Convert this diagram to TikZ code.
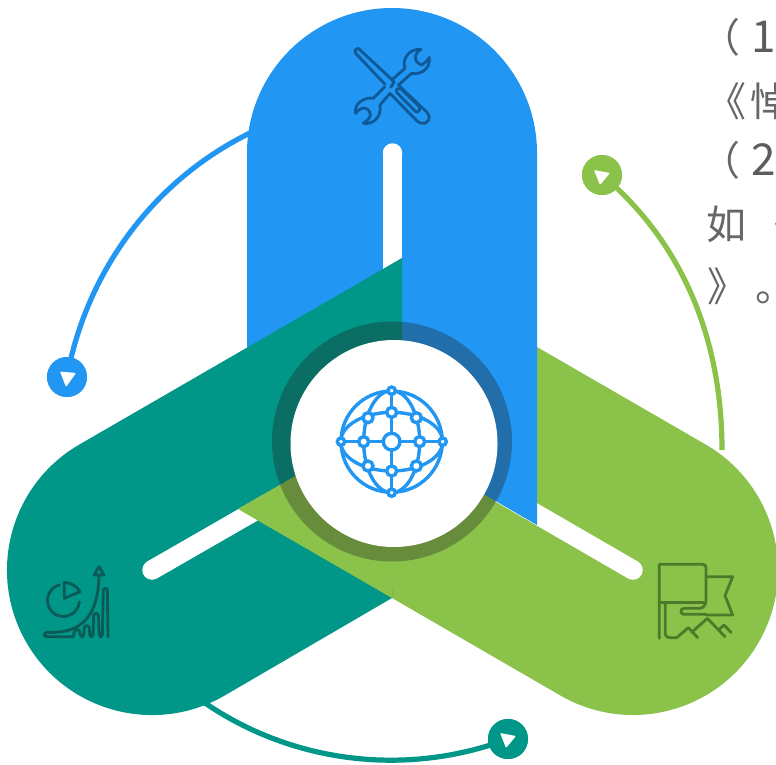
\documentclass[tikz,border=0pt]{standalone}
\usepackage{fontspec}
\newfontfamily\cjk{Noto Sans CJK SC}
\definecolor{cblue}{HTML}{2196F3}
\definecolor{cteal}{HTML}{009688}
\definecolor{cgreen}{HTML}{8BC34A}
\definecolor{icoblue}{HTML}{0F5A96}
\definecolor{icoteal}{HTML}{0B5A55}
\definecolor{icogreen}{HTML}{4C7A2A}
\definecolor{txt}{HTML}{666666}
\definecolor{ringc}{HTML}{222222}
\tikzset{
  slit/.style={white,line width=19.5pt},
  arcline/.style={line width=5.2pt},
  marker/.style={circle,minimum size=40pt,inner sep=0pt},
  ico/.style={line width=2.8pt,line join=round,line cap=round},
  zcoords/.style={x=0.3333pt,y=-0.3333pt},
  ln/.style={anchor=base west,inner sep=0pt,text=txt,font=\cjk\fontsize{40}{40}\selectfont},
  dig/.style={anchor=base west,inner sep=0pt,text=txt!90!black,font=\cjk\fontsize{44}{44}\selectfont},
}
\begin{document}
\begin{tikzpicture}[x=1pt,y=-1pt]
\useasboundingbox (0,0) rectangle (776,764);
\clip (0,0) rectangle (776,764);
\fill[white] (0,0) rectangle (776,764);
% text
\node[ln] (t1) at (700,52) {（};
\node[dig] (d1) at (751,52) {1};
\node[ln] (t2) at (706,116) {《};
\node[ln] (t2b) at (750,116) {悼};
\node[ln] (t3) at (700,175) {（};
\node[dig] (d2) at (751,175) {2};
\node[ln] (t4) at (706,239) {如};
\node[ln] (t4b) at (754,239) {《};
\node[ln] (t5) at (707,301) {》};
\node[ln] (t5b) at (755,301) {。};
% markers and free ends of the arcs
\coordinate (ba) at (250,133);
\coordinate (ga) at (722,450);
\coordinate (ta) at (205,703);
\node[marker,fill=cblue] (mb) at (67,377) {};
\node[marker,fill=cgreen] (mg) at (602,175) {};
\node[marker,fill=cteal] (mt) at (508,739) {};
\draw[arcline,cblue] (ba) .. controls (154,180) and (86.5,271) .. (mb.center);
\draw[arcline,cgreen] (mg.center) .. controls (677.7,238.2) and (722,332) .. (ga);
\draw[arcline,cteal] (ta) .. controls (293.9,763.7) and (407.2,776.7) .. (mt.center);
\node[marker,fill=cblue] at (mb) {};
\node[marker,fill=cgreen] at (mg) {};
\node[marker,fill=cteal] at (mt) {};
\fill[white,rounded corners=1pt] ([shift={(-7,-5.5)}]mb.center) -- ([shift={(9,-4)}]mb.center) -- ([shift={(-1,10)}]mb.center) -- cycle;
\fill[white,rounded corners=1pt] ([shift={(-8,-5)}]mg.center) -- ([shift={(8,-2)}]mg.center) -- ([shift={(-2,10)}]mg.center) -- cycle;
\fill[white,rounded corners=1pt] ([shift={(-8,-6)}]mt.center) -- ([shift={(8,-3)}]mt.center) -- ([shift={(-2,9)}]mt.center) -- cycle;
% green band
\fill[cgreen] (537,347) -- (705.5,444.4) arc[start angle=-60,end angle=120,radius=145] -- (392,598) -- (238,509) -- (392,420) -- cycle;
\draw[slit] (633,570) -- (500,493);
\fill[white] (633,570) circle (9.75);
% blue band
\fill[cblue] (247,347) -- (247,153) arc[start angle=180,end angle=360,radius=145] -- (537,525) -- (392,441) -- cycle;
\draw[slit] (392.5,153) -- (392.5,275);
\fill[white] (392.5,153) circle (9.75);
% teal band
\fill[cteal] (402,258) -- (402,441) -- (392,598) -- (224.5,695.6) arc[start angle=60,end angle=240,radius=145] -- cycle;
\draw[slit] (152,570) -- (272,501);
\fill[white] (152,570) circle (9.75);
% green part that lies over the teal band
\fill[cgreen] (238,509) -- (400,415.5) -- (400,500) -- (392,598) -- cycle;
% hub
\fill[ringc,opacity=.34] (392,441.5) circle (120);
\fill[white] (394,443.5) circle (103.5);
% tools icon
\begin{scope}[shift={(340,30)},zcoords,ico,icoblue]
  \draw (45,60) -- (55,55) -- (155,148);
  \draw (45,60) -- (47,70) -- (135,163);
  \draw (175,165) -- (262,248) .. controls (275,262) and (265,283) .. (245,280) .. controls (238,279) and (232,275) .. (228,270) -- (150,190);
  \draw[rounded corners=3pt] (165,182) -- (178,172) -- (243,235) -- (232,250) -- cycle;
  \draw (155,150) -- (195,115) .. controls (185,90) and (205,55) .. (243,58) .. controls (222,70) and (218,95) .. (245,105) .. controls (255,100) and (262,92) .. (268,82) .. controls (272,115) and (245,135) .. (215,130) -- (175,165);
  \draw (135,170) -- (100,205) .. controls (75,200) and (40,220) .. (47,250) .. controls (55,240) and (65,232) .. (75,235) .. controls (95,240) and (100,262) .. (70,280) .. controls (105,285) and (125,255) .. (120,225) -- (150,190);
  \draw (155,150) -- (163,156) -- (152,172);
\end{scope}
% globe icon
\begin{scope}[shift={(330,380)},zcoords,line width=3.4pt,cblue]
  \draw (185,185) circle[radius=152];
  \draw (185,185) ellipse[x radius=84,y radius=153];
  \draw (185,185) ellipse[x radius=153,y radius=88];
  \draw (185,32) -- (185,338);
  \draw (33,185) -- (338,185);
  \foreach \px/\py/\pr in {185/185/25,185/32/11,185/338/11,33/185/11,338/185/11,185/97/15,185/273/15,101/185/15,269/185/15,114/113/15,259/113/15,114/258/15,259/258/15}
    \draw[fill=white] (\px,\py) circle[radius=\pr];
\end{scope}
% chart icon
\begin{scope}[shift={(30,555)},zcoords,ico,icoteal]
  \draw (88,90) arc[start angle=-105,end angle=-355,radius=48];
  \draw (103,130) -- (103,82) .. controls (125,84) and (142,95) .. (150,110) -- cycle;
  \draw (130,245) -- (52,245) .. controls (40,245) and (40,232) .. (52,232) .. controls (130,235) and (205,210) .. (207,60);
  \draw (192,60) -- (207,35) -- (222,60) -- cycle;
  \draw[rounded corners=2.2pt] (130,245) -- (134,224) -- (148,224) -- (152,245) -- (161,245) -- (163,212) -- (177,212) -- (180,245) -- (189,245) -- (191,175) -- (205,175) -- (208,245) -- (217,245) -- (220,100) -- (232,100) -- (234,245);
\end{scope}
% flag icon
\begin{scope}[shift={(650,555)},zcoords,ico,icogreen]
  \draw (28,250) -- (28,28) -- (158,28) .. controls (165,28) and (168,32) .. (168,38) -- (168,135) .. controls (168,150) and (160,158) .. (150,160) -- (102,160) .. controls (90,160) and (90,178) .. (102,178) -- (168,178);
  \draw (28,142) -- (160,142);
  \draw (170,65) -- (248,65) -- (225,122) -- (248,180) -- (168,180);
  \draw (46,142) -- (46,238) .. controls (48,246) and (52,248) .. (60,248) -- (80,248) -- (115,218) -- (143,248);
  \draw (125,232) -- (172,190) -- (225,245);
  \draw (205,225) -- (222,210) -- (243,232);
\end{scope}
\end{tikzpicture}
\end{document}
